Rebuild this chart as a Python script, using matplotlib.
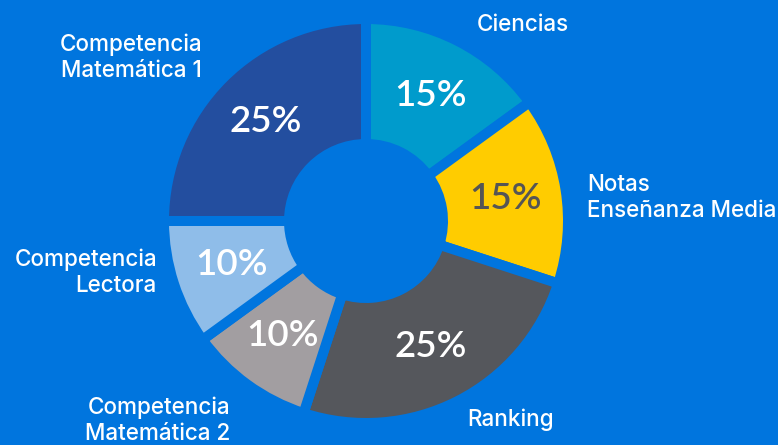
import matplotlib
matplotlib.use("Agg")
import matplotlib.pyplot as plt

# data
labels = ["Ciencias", "Notas\nEnseñanza Media", "Ranking",
          "Competencia\nMatemática 2", "Competencia\nLectora",
          "Competencia\nMatemática 1"]
values = [15, 15, 25, 10, 10, 25]
colors = ["#009bcc", "#ffcc00", "#55575c", "#a29ea1", "#8fbde9", "#234e9f"]
pct_colors = ["white", "#555555", "white", "white", "white", "white"]

bg = "#0075de"
W, H = 778, 445

fig = plt.figure(figsize=(W / 100, H / 100), dpi=100, facecolor=bg)
ax = fig.add_axes([0, 0, 1, 1])
ax.set_facecolor(bg)

cx, cy = 366, H - 221
wedges, texts, autotexts = ax.pie(
    values, colors=colors, startangle=90, counterclock=False,
    center=(cx, cy), radius=202,
    autopct="%d%%", pctdistance=0.70,
    wedgeprops=dict(width=125, edgecolor=bg, linewidth=7.2),
    textprops=dict(fontsize=26.5, family="Lato", fontweight="semibold"),
)
for t, c in zip(autotexts, pct_colors):
    t.set_color(c)

# category labels (pixel positions, y from top)
lab_pos = [(523, 25, "center"), (587, 198, "left"), (511, 420, "center"),
           (230, 421, "right"), (157, 273, "right"), (202, 58, "right")]
for txt, (x, y, ha) in zip(labels, lab_pos):
    ax.text(x, H - y, txt, ha=ha, va="center", multialignment=ha,
            color="white", fontsize=16.2, family="Inter",
            fontweight="medium", linespacing=1.25)

ax.set_xlim(0, W)
ax.set_ylim(0, H)
ax.set_aspect("auto")
ax.axis("off")

fig.savefig("out.png", dpi=100, facecolor=bg)
